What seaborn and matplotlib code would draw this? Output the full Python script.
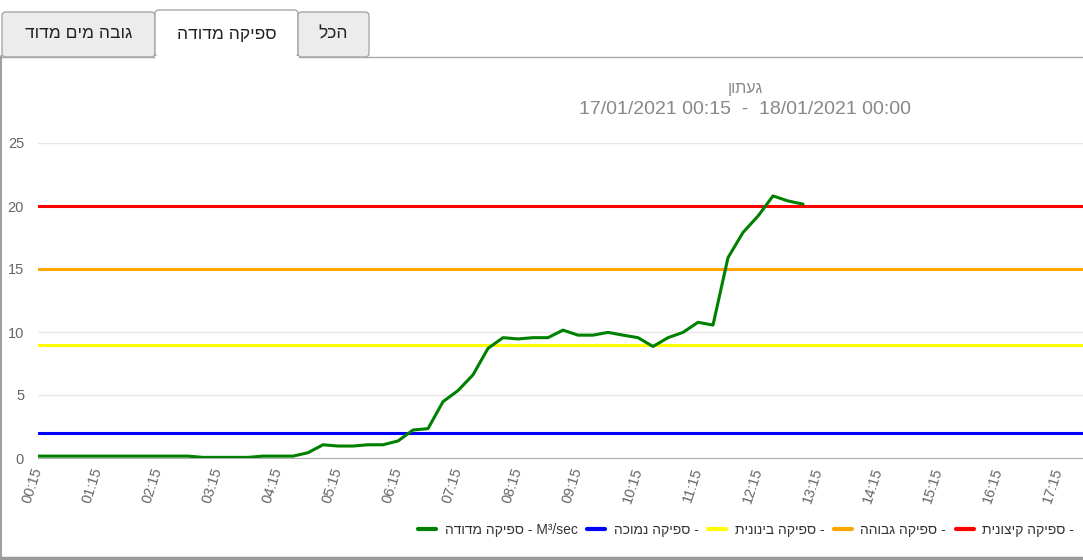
import pandas as pd
import matplotlib
matplotlib.use("Agg")
import matplotlib.pyplot as plt
import matplotlib.dates as mdates
from matplotlib.patches import FancyBboxPatch
import seaborn as sns

sns.set_style("white")
plt.rcParams['font.family'] = ['Liberation Sans', 'DejaVu Sans']

# measured flow, every 15 minutes from 00:15
times = pd.date_range('2021-01-17 00:15', periods=52, freq='15min')
flow = [0.15, 0.15, 0.15, 0.15, 0.15, 0.15, 0.15, 0.15, 0.15, 0.15, 0.15,
        0.05, 0.05, 0.05, 0.05, 0.15, 0.15, 0.15,
        0.42, 1.05, 0.95, 0.95, 1.05, 1.05, 1.35, 2.22, 2.33, 4.47, 5.35,
        6.6, 8.7, 9.55, 9.45, 9.55, 9.55, 10.15, 9.75, 9.75, 9.97, 9.75,
        9.55, 8.85, 9.55, 9.97, 10.77, 10.55, 15.9, 17.9, 19.2, 20.8,
        20.4, 20.15]
flow_name = 'ספיקה מדודה'
flow_unit = 'M³/sec'

threshold_names = ['ספיקה נמוכה', 'ספיקה בינונית', 'ספיקה גבוהה', 'ספיקה קיצונית']
threshold_values = [2, 9, 15, 20]
threshold_colors = ['#0000ff', '#ffff00', '#ffa500', '#ff0000']

tab_names = ['גובה מים מדוד', 'ספיקה מדודה', 'הכל']
station = 'געתון'
date_range = '17/01/2021 00:15  -  18/01/2021 00:00'


def rtl(s):
    # matplotlib has no bidi support, so hebrew is given in visual order
    return s[::-1]


df = pd.DataFrame({'time': times, 'flow': flow})

W, H = 1083, 560
fig = plt.figure(figsize=(W / 100, H / 100), dpi=100)

# page decoration: tabs and panel border (pixel coords)
bg = fig.add_axes([0, 0, 1, 1], zorder=0)
bg.set_xlim(0, W)
bg.set_ylim(H, 0)
bg.axis('off')
tabs = [(2, 153, 12, False), (155, 143, 10, True), (298, 71, 12, False)]
for (x0, w, y0, active), name in zip(tabs, tab_names):
    box = FancyBboxPatch((x0, y0), w, 57 - y0, boxstyle='round,pad=0,rounding_size=4',
                         fc='white' if active else '#ececec', ec='#a8a8a8', lw=1)
    bg.add_patch(box)
    bg.text(x0 + w / 2, 34, rtl(name), ha='center', va='center', fontsize=12.5, color='#222222')
bg.plot([0, 155], [56.5, 56.5], color='#a8a8a8', lw=1)
bg.plot([298, W], [56.5, 56.5], color='#a8a8a8', lw=1)
bg.plot([155.5, 297.5], [57, 57], color='white', lw=1.5)
bg.plot([1, 1], [56, 558], color='#a0a0a0', lw=1.5)
bg.plot([0, W], [557.5, 557.5], color='#9a9a9a', lw=2.5)

ax = fig.add_axes([38 / W, (H - 458) / H, (W - 38) / W, (458 - 143) / H], zorder=1)
ax.patch.set_alpha(0)

for name, val, col in zip(threshold_names, threshold_values, threshold_colors):
    ax.axhline(val, color=col, lw=2.2, label=rtl(name) + ' -', zorder=2)

sns.lineplot(data=df, x='time', y='flow', ax=ax, color='#008000', lw=2.2,
             label=rtl(flow_name) + ' - ' + flow_unit, zorder=3)
ax.get_legend().remove()

ax.set_ylim(0, 25)
ax.set_yticks([0, 5, 10, 15, 20, 25])
ax.set_xlim(pd.Timestamp('2021-01-17 00:15'), pd.Timestamp('2021-01-17 17:40'))
ax.xaxis.set_major_locator(mdates.MinuteLocator(byminute=[15]))
ax.xaxis.set_minor_locator(mdates.MinuteLocator(byminute=[0, 30, 45]))
ax.xaxis.set_major_formatter(mdates.DateFormatter('%H:%M'))
ax.set_xlabel('')
ax.set_ylabel('')
ax.grid(axis='y', color='#e6e6e6', lw=1, zorder=0)
for s in ['top', 'right', 'left']:
    ax.spines[s].set_visible(False)
ax.spines['bottom'].set_color('#b0b0b0')
ax.tick_params(axis='y', length=0, pad=10, labelsize=10.5, labelcolor='#666666')
ax.tick_params(axis='x', which='both', length=4, color='#b0b0b0', direction='out',
               labelsize=10.5, labelcolor='#666666', pad=3)
for lab in ax.get_xticklabels():
    lab.set_rotation(72)
    lab.set_ha('right')
    lab.set_va('center')
    lab.set_rotation_mode('anchor')

handles, labels = ax.get_legend_handles_labels()
order = [4, 0, 1, 2, 3]
leg = fig.legend([handles[i] for i in order], [labels[i] for i in order],
                 loc='center right', bbox_to_anchor=(1074 / W, 1 - 530 / H), ncol=5,
                 frameon=False, fontsize=10, handlelength=1.3, handletextpad=0.6,
                 columnspacing=0.7, borderpad=0, borderaxespad=0, labelcolor='#333333')
for line in leg.get_lines():
    line.set_linewidth(3)

fig.text(745 / W, 1 - 89 / H, rtl(station), ha='center', va='center', fontsize=11.5, color='#888888')
fig.text(745 / W, 1 - 110 / H, date_range, ha='center', va='center', fontsize=14, color='#888888')

fig.savefig('out.png', dpi=100)
